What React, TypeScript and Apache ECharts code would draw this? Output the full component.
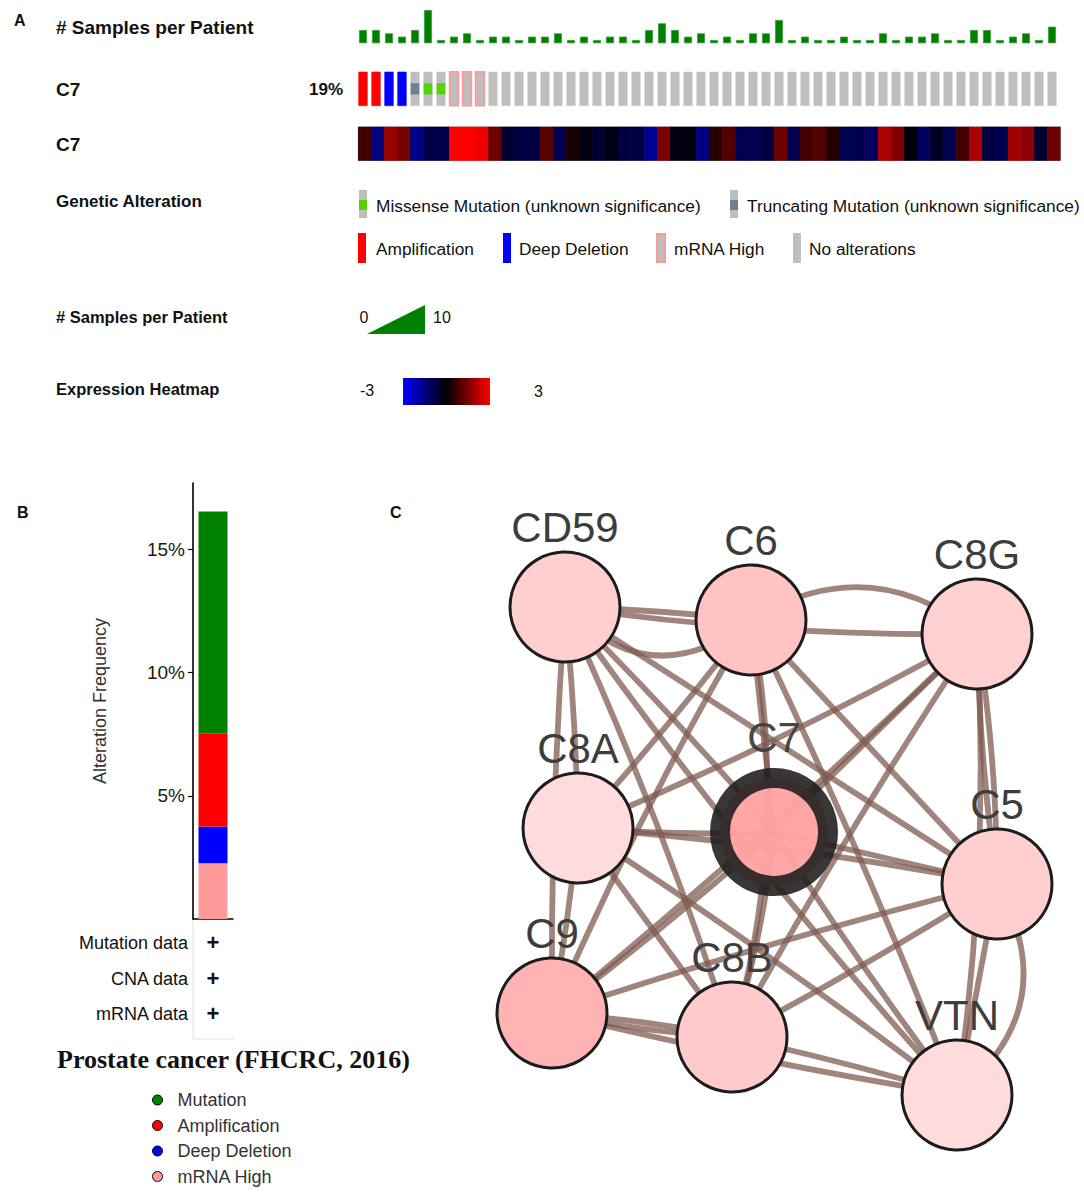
import React, { useEffect, useRef } from "react";
import * as echarts from "echarts";

const W = 1084;
const H = 1193;
const FONT = "'Liberation Sans', Arial, sans-serif";

// Panel A: samples per patient (one bar per patient)
const samplesPerPatient = [
  4, 4, 3, 2, 4, 10, 1, 2, 3, 1, 2, 2, 1, 2, 2, 3, 1, 2, 1, 2, 2, 1, 4, 6, 4, 2, 3,
  1, 2, 1, 3, 3, 7, 1, 2, 1, 1, 2, 1, 1, 3, 1, 2, 2, 3, 1, 1, 4, 4, 1, 2, 3, 1, 5,
];

// Panel A: C7 alteration per patient
const alterations = [
  "AMP", "AMP", "HOMDEL", "HOMDEL", "TRUNC", "MISSENSE", "MISSENSE", "MRNA", "MRNA", "MRNA",
  "NONE", "NONE", "NONE", "NONE", "NONE", "NONE", "NONE", "NONE", "NONE", "NONE", "NONE",
  "NONE", "NONE", "NONE", "NONE", "NONE", "NONE", "NONE", "NONE", "NONE", "NONE", "NONE",
  "NONE", "NONE", "NONE", "NONE", "NONE", "NONE", "NONE", "NONE", "NONE", "NONE", "NONE",
  "NONE", "NONE", "NONE", "NONE", "NONE", "NONE", "NONE", "NONE", "NONE", "NONE", "NONE",
];

// Panel A: C7 expression z-score per patient
const expression = [
  0.75, -1.5, 1.8, 1.4, -1.56, -0.85, -0.85, 3, 3, 2.8, 1.3, -0.55, -0.8, -0.8, 1.05, -0.95,
  0.25, -0.2, -0.6, -0.25, -0.75, -0.75, -1.7, 1.5, -0.2, -0.2, -1.5,
  0.45, 1.0, -0.95, -0.95, -0.75, 1.3, -0.95, 0.8, 1.0, 0.4, -0.95, -0.95, -1.1, 2.0, 1.5,
  -0.1, -1.1, -0.45, -0.95, 0.75, 2.0, -0.75, -0.95, 1.9, 1.7, -0.55, 1.3,
];

// Panel B: alteration frequency (%) by type (stack order bottom -> top)
const alterationTypes = ["mRNA High", "Deep Deletion", "Amplification", "Mutation"];
const alterationFreq = [2.26, 1.5, 3.76, 9.02];
const alterationColors = ["#ff9a9a", "#0000ff", "#ff0000", "#008000"];
const freqTicks = [5, 10, 15];

// Panel C: network
const nodeNames = ["CD59", "C6", "C8G", "C8A", "C7", "C5", "C9", "C8B", "VTN"];
const nodePositions = [
  [565, 607], [751, 620], [977, 634], [578, 828], [774, 832],
  [997, 884], [552, 1013], [732, 1037], [957, 1095],
];
const nodeColors = [
  "#ffcece", "#ffc3c3", "#ffd0d0", "#ffdcdc", "#ffa3a3",
  "#ffcfcf", "#ffb3b3", "#ffcaca", "#ffdbdb",
];
const edges: [string, string, number][] = [
  ["CD59", "C6", 0.02], ["CD59", "C6", -0.45], ["CD59", "C8G", -0.04], ["CD59", "C8A", 0.02],
  ["CD59", "C7", 0.02], ["CD59", "C5", 0.0], ["CD59", "C9", -0.02], ["CD59", "C8B", 0.03],
  ["CD59", "VTN", -0.03],
  ["C6", "C8G", 0.35], ["C6", "C8A", 0.02], ["C6", "C7", 0.0], ["C6", "C5", 0.0],
  ["C6", "C9", -0.03], ["C6", "C8B", 0.12], ["C6", "VTN", 0.02],
  ["C8G", "C8A", 0.03], ["C8G", "C7", 0.0], ["C8G", "C5", 0.04], ["C8G", "C5", -0.03],
  ["C8G", "C9", 0.02], ["C8G", "C8B", -0.02], ["C8G", "VTN", 0.05],
  ["C8A", "C7", -0.03], ["C8A", "C5", 0.03], ["C8A", "C9", 0.02], ["C8A", "C8B", 0.0],
  ["C8A", "VTN", 0.02],
  ["C7", "C5", 0.0], ["C7", "C9", 0.02], ["C7", "C8B", 0.05], ["C7", "VTN", -0.02],
  ["C5", "C9", -0.02], ["C5", "C8B", 0.02], ["C5", "VTN", 0.42], ["C5", "VTN", 0.0],
  ["C9", "C8B", 0.03], ["C9", "C8B", -0.04], ["C9", "VTN", -0.02], ["C8B", "VTN", 0.02],
];

const txt = (
  text: string, x: number, y: number, size: number, opts: any = {}
) => ({
  type: "text",
  x,
  y,
  silent: true,
  style: {
    text,
    fontSize: size,
    fontWeight: opts.bold ? "bold" : "normal",
    fontFamily: opts.family || FONT,
    fill: opts.color || "#111",
    align: opts.align || "left",
    textAlign: opts.align || "left",
    verticalAlign: "middle",
    textVerticalAlign: "middle",
  },
});

const rect = (x: number, y: number, w: number, h: number, fill: string, stroke?: string, lw = 0) => ({
  type: "rect",
  silent: true,
  shape: { x, y, width: w, height: h },
  style: { fill, stroke: stroke || fill, lineWidth: lw },
});

export default function App() {
  const ref = useRef<HTMLDivElement>(null);

  useEffect(() => {
    document.body.style.margin = "0";
    if (!ref.current) return;
    const chart = echarts.init(ref.current, undefined, { renderer: "svg" });
    const idx = samplesPerPatient.map((_, i) => i);

    const graphic: any[] = [
      txt("A", 14, 20, 16, { bold: true }),
      txt("# Samples per Patient", 56, 27, 19, { bold: true }),
      txt("C7", 56, 89, 19, { bold: true }),
      txt("19%", 343, 89, 17, { bold: true, align: "right" }),
      txt("C7", 56, 144, 19, { bold: true }),
      txt("Genetic Alteration", 56, 201, 17, { bold: true }),
      rect(359, 190, 8, 28, "#bebebe"),
      rect(359, 200, 8, 10, "#53d400"),
      txt("Missense Mutation (unknown significance)", 376, 206, 17.3),
      rect(730, 190, 8, 28, "#bebebe"),
      rect(730, 200, 8, 10, "#708090"),
      txt("Truncating Mutation (unknown significance)", 747, 206, 17.3),
      rect(358, 233, 8, 30, "#ff0000"),
      txt("Amplification", 376, 249, 17.3),
      rect(503, 233, 8, 30, "#0000ff"),
      txt("Deep Deletion", 519, 249, 17.3),
      rect(657, 234, 8, 28, "#bebebe", "#ff9a9a", 2),
      txt("mRNA High", 674, 249, 17.3),
      rect(793, 233, 8, 30, "#bebebe"),
      txt("No alterations", 809, 249, 17.3),
      txt("# Samples per Patient", 56, 317, 16.5, { bold: true }),
      txt("0", 364, 317, 16, { align: "center" }),
      {
        type: "polygon",
        silent: true,
        shape: { points: [[367, 334], [425, 305], [425, 334]] },
        style: { fill: "#008000" },
      },
      txt("10", 433, 317, 16),
      txt("Expression Heatmap", 56, 389, 16.5, { bold: true }),
      txt("-3", 360, 390, 16),
      {
        type: "rect",
        silent: true,
        shape: { x: 403, y: 378, width: 87, height: 27 },
        style: {
          fill: {
            type: "linear", x: 0, y: 0, x2: 1, y2: 0,
            colorStops: [
              { offset: 0, color: "#0000ff" },
              { offset: 0.5, color: "#000000" },
              { offset: 1, color: "#ff0000" },
            ],
          },
        },
      },
      txt("3", 534, 391, 16),
      txt("B", 17, 512, 16, { bold: true }),
      txt("C", 390, 512, 16, { bold: true }),
      {
        type: "line", silent: true,
        shape: { x1: 193, y1: 919, x2: 193, y2: 1039 },
        style: { stroke: "#e2e2e2", lineWidth: 1 },
      },
      {
        type: "line", silent: true,
        shape: { x1: 193, y1: 1039, x2: 234, y2: 1039 },
        style: { stroke: "#e2e2e2", lineWidth: 1 },
      },
      txt("Mutation data", 188, 943, 18, { align: "right" }),
      txt("+", 213, 942, 22, { bold: true, align: "center" }),
      txt("CNA data", 188, 979, 18, { align: "right" }),
      txt("+", 213, 978, 22, { bold: true, align: "center" }),
      txt("mRNA data", 188, 1014, 18, { align: "right" }),
      txt("+", 213, 1013, 22, { bold: true, align: "center" }),
      txt("Prostate cancer (FHCRC, 2016)", 57, 1059, 26, {
        bold: true,
        family: "'Liberation Serif', 'Times New Roman', serif",
      }),
    ];

    const hidden = { show: false };

    const option: any = {
      animation: false,
      backgroundColor: "#ffffff",
      textStyle: { fontFamily: FONT },
      grid: [
        { left: 356.5, top: 10, width: 702, height: 33.3 },
        { left: 356.5, top: 72, width: 702, height: 33.7 },
        { left: 358.3, top: 127, width: 702, height: 33.5, show: true, borderColor: "#9a9a9a", borderWidth: 1, backgroundColor: "transparent" },
        { left: 193, top: 483, width: 40, height: 436 },
        { left: 0, top: 0, width: W, height: H },
      ],
      xAxis: [
        { gridIndex: 0, type: "category", data: idx, ...hidden },
        { gridIndex: 1, type: "category", data: idx, ...hidden },
        { gridIndex: 2, type: "category", data: idx, ...hidden },
        {
          gridIndex: 3, type: "category", data: ["Prostate cancer (FHCRC, 2016)"],
          axisLine: { show: true, lineStyle: { color: "#000", width: 1.6 } },
          axisTick: { show: false }, axisLabel: { show: false },
        },
        { gridIndex: 4, type: "value", min: 0, max: W, ...hidden },
      ],
      yAxis: [
        { gridIndex: 0, type: "value", min: 0, max: 10, ...hidden },
        { gridIndex: 1, type: "value", min: 0, max: 1, ...hidden },
        { gridIndex: 2, type: "category", data: ["C7"], ...hidden },
        {
          gridIndex: 3, type: "value", min: 0, max: 17.7,
          axisLine: { show: true, lineStyle: { color: "#000", width: 1.6 } },
          axisTick: { show: true, length: 5, customValues: freqTicks, lineStyle: { color: "#000", width: 1.2 } },
          axisLabel: {
            customValues: freqTicks, formatter: "{value}%", fontSize: 19,
            color: "#1a1a1a", margin: 8, fontFamily: FONT,
          },
          splitLine: { show: false },
          name: "Alteration Frequency", nameLocation: "middle", nameGap: 84, nameRotate: 90,
          nameTextStyle: { fontSize: 18, color: "#333", fontFamily: FONT },
        },
        { gridIndex: 4, type: "value", min: 0, max: H, inverse: true, ...hidden },
      ],
      visualMap: [
        {
          type: "continuous", min: -3, max: 3, seriesIndex: 2, show: false,
          inRange: { color: ["#0000ff", "#000000", "#ff0000"] },
        },
      ],
      legend: {
        data: ["Mutation", "Amplification", "Deep Deletion", "mRNA High"],
        orient: "vertical", left: 152, top: 1091, height: 102, padding: 0, icon: "circle",
        itemWidth: 30, itemHeight: 10, itemGap: 7.5, selectedMode: false,
        itemStyle: { borderColor: "#000", borderWidth: 1 },
        textStyle: { fontSize: 18, color: "#333", fontFamily: FONT },
      },
      graphic,
      series: [
        {
          type: "bar", xAxisIndex: 0, yAxisIndex: 0, data: samplesPerPatient, barWidth: 8,
          itemStyle: { color: "#007f00", borderColor: "#3f9f3f", borderWidth: 0.8 },
          silent: true,
        },
        {
          type: "custom", xAxisIndex: 1, yAxisIndex: 1, silent: true,
          data: alterations.map((_, i) => [i, 1]),
          renderItem: (params: any, api: any) => {
            const code = alterations[params.dataIndex];
            const p1 = api.coord([api.value(0), 1]);
            const p0 = api.coord([api.value(0), 0]);
            const w = 8.6;
            const x = p1[0] - w / 2;
            const y = p1[1];
            const h = p0[1] - p1[1];
            const base = code === "AMP" ? "#ff0000" : code === "HOMDEL" ? "#0000ff" : "#bebebe";
            const children: any[] = [
              {
                type: "rect",
                shape: { x, y, width: w, height: h },
                style: {
                  fill: base,
                  stroke: code === "MRNA" ? "#ff9a9a" : base === "#bebebe" ? "#cfcfcf" : base,
                  lineWidth: code === "MRNA" ? 1.8 : 0.6,
                },
              },
            ];
            if (code === "MISSENSE" || code === "TRUNC") {
              children.push({
                type: "rect",
                shape: { x, y: y + h / 3, width: w, height: h / 3 },
                style: { fill: code === "MISSENSE" ? "#53d400" : "#708090" },
              });
            }
            return { type: "group", children };
          },
        },
        {
          type: "heatmap", xAxisIndex: 2, yAxisIndex: 2, silent: true,
          data: expression.map((v, i) => [i, 0, v]),
        },
        ...alterationTypes.map((name, i) => ({
          name, type: "bar", xAxisIndex: 3, yAxisIndex: 3, stack: "freq", barWidth: 29,
          data: [alterationFreq[i]], itemStyle: { color: alterationColors[i] }, silent: true,
        })),
        {
          type: "graph", coordinateSystem: "cartesian2d", xAxisIndex: 4, yAxisIndex: 4,
          layout: "none", symbol: "circle", symbolSize: 110, silent: true,
          data: nodeNames.map((name, i) => ({
            name,
            value: nodePositions[i],
            symbolSize: name === "C7" ? 108 : 110,
            itemStyle: {
              color: nodeColors[i],
              borderColor: name === "C7" ? "rgba(28,28,28,0.92)" : "#1c1c1c",
              borderWidth: name === "C7" ? 20 : 3,
              opacity: name === "C7" ? 0.96 : 1,
            },
            label: { distance: name === "C7" ? 10 : 2 },
          })),
          links: edges.map(([s, t, c]) => ({ source: s, target: t, lineStyle: { curveness: c } })),
          lineStyle: { color: "#7f5b50", width: 5.8, opacity: 0.74 },
          label: {
            show: true, position: "top", fontSize: 42, color: "#3d3d3d", fontFamily: FONT,
          },
          z: 3,
        },
      ],
    };

    chart.setOption(option);
    return () => chart.dispose();
  }, []);

  return <div ref={ref} style={{ width: W, height: H }} />;
}
